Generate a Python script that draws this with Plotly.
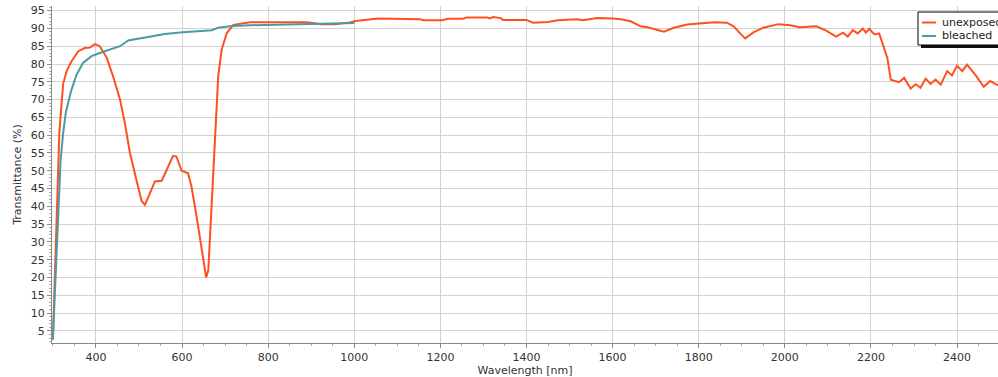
import plotly.graph_objects as go

# ---- data ----
unexposed_nm = [300, 302, 305, 309, 311, 315, 319, 324, 332, 343, 359, 374, 386, 398, 409, 425, 440,
                456, 467, 479, 494, 506, 514, 525, 537, 553, 564, 579, 587, 599, 614, 622, 634, 646,
                656, 661, 666, 672, 679, 684, 692, 704, 719, 742, 758, 889, 905, 925, 955, 990, 1003,
                1055, 1153, 1160, 1205, 1217, 1252, 1262, 1308, 1315, 1322, 1340, 1345, 1400, 1415,
                1450, 1473, 1517, 1531, 1564, 1600, 1619, 1642, 1665, 1681, 1719, 1742, 1773, 1800,
                1838, 1865, 1881, 1896, 1908, 1927, 1950, 1985, 2012, 2035, 2073, 2096, 2119, 2135,
                2146, 2158, 2169, 2181, 2188, 2196, 2208, 2219, 2231, 2238, 2246, 2265, 2277, 2292,
                2304, 2315, 2327, 2338, 2350, 2362, 2377, 2388, 2400, 2412, 2423, 2442, 2462, 2477, 2495]
unexposed_T = [2.5, 10, 25, 38, 48, 60.5, 67, 74.5, 78, 80.7, 83.6, 84.5, 84.6, 85.6, 85, 81.8, 76.5,
               70, 63.5, 55, 47.5, 41.5, 40.4, 43.8, 47, 47.2, 50, 54.2, 54, 50, 49.3, 45.5, 37, 27,
               20, 22, 33.4, 47.5, 62.4, 76.5, 84, 88.7, 91, 91.4, 91.7, 91.7, 91.4, 91.2, 91.2, 91.7, 92.1,
               92.8, 92.6, 92.3, 92.3, 92.7, 92.7, 93.1, 93.1, 92.8, 93.2, 92.9, 92.4, 92.4, 91.6,
               91.8, 92.3, 92.6, 92.3, 92.9, 92.8, 92.6, 92.0, 90.6, 90.3, 89.1, 90.2, 91.1, 91.4,
               91.7, 91.6, 90.6, 88.6, 87.2, 88.9, 90.2, 91.2, 90.9, 90.3, 90.6, 89.4, 87.7, 88.8,
               87.7, 89.5, 88.6, 90.0, 88.8, 89.9, 88.3, 88.6, 84.0, 81.7, 75.6, 74.9, 76.1, 73.1,
               74.3, 73.3, 75.9, 74.4, 75.6, 74.2, 78.0, 76.8, 79.5, 78.0, 79.8, 77.0, 73.6, 75.2, 74.0]

bleached_nm = [300, 302, 307, 311, 314, 318, 324, 330, 342, 355, 370, 390, 409, 436, 456, 475, 506,
               525, 560, 602, 669, 684, 711, 758, 835, 874, 1000]
bleached_T = [2.5, 8, 20.3, 32.5, 41.8, 53, 60.7, 66.3, 72.3, 77, 80.3, 82.2, 83.1, 84.2, 85, 86.6, 87.3,
              87.7, 88.4, 88.9, 89.5, 90.2, 90.6, 90.9, 91.1, 91.3, 91.5]

series_names = ["unexposed", "bleached"]
y_ticks = list(range(5, 100, 5))
x_ticks = list(range(400, 2600, 200))

FONT = "DejaVu Sans"
ORANGE = "#ff5020"
TEAL = "#4b9aa6"
COLORS = [ORANGE, TEAL]

W, H = 998, 377
ML, MR, MT, MB = 52, 0, 6, 34
PW, PH = W - ML - MR, H - MT - MB


def px(x):
    return (x - ML) / PW


def py(y):
    return (H - MB - y) / PH


fig = go.Figure()
fig.add_trace(go.Scatter(x=unexposed_nm, y=unexposed_T, mode="lines", name=series_names[0],
                         line=dict(color=ORANGE, width=2), showlegend=False))
fig.add_trace(go.Scatter(x=bleached_nm, y=bleached_T, mode="lines", name=series_names[1],
                         line=dict(color=TEAL, width=2), showlegend=False))

# custom legend box (with drop shadow), as in the reference
shapes = [
    dict(type="rect", xref="paper", yref="paper", x0=px(921), x1=px(1010), y0=py(48), y1=py(15),
         fillcolor="#111111", line=dict(width=0), layer="above"),
    dict(type="rect", xref="paper", yref="paper", x0=px(918), x1=px(1008), y0=py(45), y1=py(12),
         fillcolor="white", line=dict(color="#000000", width=1), layer="above"),
]
annotations = []
for i, (nm, col) in enumerate(zip(series_names, COLORS)):
    yy = 22.5 + i * 13.5
    shapes.append(dict(type="line", xref="paper", yref="paper", x0=px(922), x1=px(936),
                       y0=py(yy), y1=py(yy), line=dict(color=col, width=2), layer="above"))
    annotations.append(dict(text=nm, xref="paper", yref="paper", x=px(940), y=py(yy),
                            xanchor="left", yanchor="middle", showarrow=False,
                            font=dict(family=FONT, size=11, color="#222222")))

fig.update_layout(
    width=W, height=H,
    margin=dict(l=ML, r=MR, t=MT, b=MB, autoexpand=False),
    paper_bgcolor="white", plot_bgcolor="white",
    font=dict(family=FONT, size=11, color="#333333"),
    showlegend=False,
    shapes=shapes, annotations=annotations,
    xaxis=dict(range=[298, 2495], tickvals=x_ticks, showgrid=True, gridcolor="#d2d2d2", gridwidth=1,
               zeroline=False, showline=True, linecolor="#888888", linewidth=1, automargin=False,
               ticks="outside", ticklen=4, tickcolor="#888888",
               minor=dict(dtick=50, ticks="outside", ticklen=2, tickcolor="#aaaaaa", showgrid=False),
               title=dict(text="Wavelength [nm]", font=dict(family=FONT, size=11), standoff=2),
               tickfont=dict(family=FONT, size=11)),
    yaxis=dict(range=[1.6, 96.3], tickvals=y_ticks, showgrid=True, gridcolor="#d2d2d2", gridwidth=1,
               zeroline=False, showline=True, linecolor="#888888", linewidth=1, automargin=False,
               ticks="outside", ticklen=4, tickcolor="#888888",
               minor=dict(dtick=1, ticks="outside", ticklen=2, tickcolor="#aaaaaa", showgrid=False),
               title=dict(text="Transmittance (%)", font=dict(family=FONT, size=11), standoff=6),
               tickfont=dict(family=FONT, size=11)),
)

fig.write_html("out.html", config={"displayModeBar": False},
               post_script="document.body.style.margin='0';document.body.style.overflow='hidden';")
